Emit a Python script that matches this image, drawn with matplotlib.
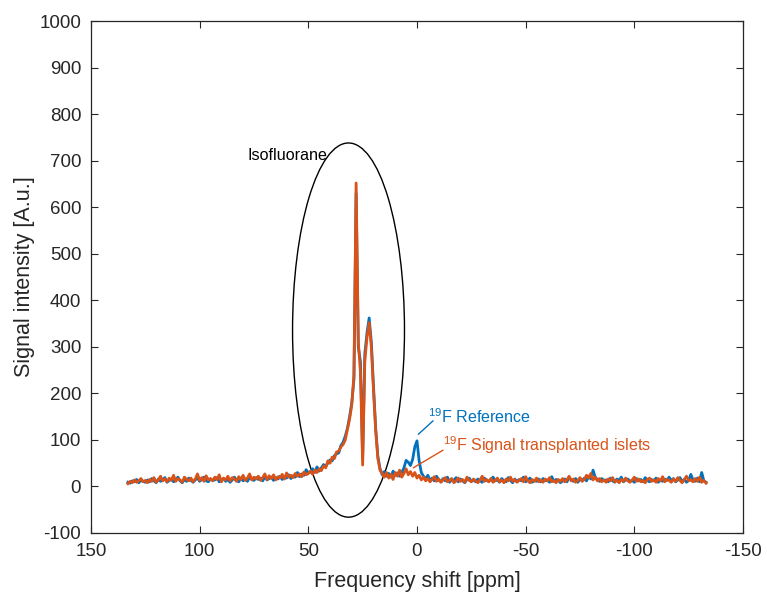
import numpy as np
import matplotlib
matplotlib.use("Agg")
import matplotlib.pyplot as plt
from matplotlib.patches import Ellipse

plt.rcParams['font.family'] = ['Liberation Sans', 'DejaVu Sans']
plt.rcParams['mathtext.default'] = 'regular'
plt.rcParams['axes.unicode_minus'] = False

# frequency axis, ppm (133 down to -133, 1 ppm steps)
ppm = np.arange(133, -134, -1)

# 19F reference spectrum
ref = [9, 7, 12, 10, 15, 8, 13, 11, 9, 14,
       10, 17, 12, 8, 16, 11, 14, 19, 9, 13,
       16, 10, 14, 20, 12, 8, 15, 11, 18, 13,
       9, 14, 18, 11, 15, 20, 12, 10, 16, 13,
       14, 19, 10, 13, 17, 11, 15, 9, 14, 20,
       13, 10, 18, 12, 16, 11, 20, 15, 13, 19,
       15, 18, 12, 21, 14, 17, 20, 13, 19, 16,
       22, 15, 20, 18, 25, 17, 23, 20, 30, 21,
       27, 24, 36, 29, 31, 38, 30, 42, 33, 40,
       47, 43, 50, 57, 55, 66, 70, 72, 88, 95,
       108, 125, 150, 180, 230, 630, 300, 268, 60, 285,
       330, 362, 310, 215, 125, 65, 38, 25, 32, 22,
       28, 20, 33, 24, 29, 22, 30, 40, 56, 52,
       45, 58, 85, 98, 55, 30, 22, 16, 24, 13,
       18, 12, 22, 14, 10, 17, 12, 20, 9, 15,
       13, 19, 10, 16, 12, 8, 15, 18, 11, 14,
       10, 16, 12, 9, 18, 13, 11, 15, 20, 12,
       14, 9, 17, 12, 10, 19, 13, 8, 16, 11,
       15, 12, 20, 10, 14, 18, 9, 13, 11, 16,
       10, 17, 12, 14, 9, 21, 11, 15, 13, 8,
       12, 16, 10, 19, 14, 11, 17, 9, 15, 13,
       18, 12, 22, 16, 35, 20, 15, 11, 17, 13,
       14, 10, 18, 12, 9, 16, 13, 20, 10, 14,
       16, 11, 13, 9, 17, 12, 15, 10, 19, 13,
       10, 15, 12, 18, 9, 14, 11, 16, 13, 20,
       12, 17, 10, 14, 19, 11, 15, 9, 13, 26,
       14, 11, 18, 10, 30, 12, 9]

# 19F signal from transplanted islets
islets = [6, 11, 8, 14, 9, 12, 17, 10, 13, 8,
          15, 11, 19, 9, 14, 22, 12, 16, 10, 18,
          13, 24, 11, 17, 14, 9, 20, 15, 12, 18,
          10, 16, 27, 13, 19, 11, 23, 14, 17, 12,
          20, 15, 25, 10, 18, 14, 22, 12, 19, 16,
          11, 21, 15, 24, 13, 18, 27, 14, 20, 16,
          22, 13, 19, 27, 15, 23, 17, 25, 14, 21,
          18, 26, 16, 29, 20, 24, 19, 28, 22, 27,
          21, 31, 25, 28, 33, 26, 35, 30, 38, 34,
          44, 40, 55, 50, 63, 60, 74, 76, 85, 90,
          100, 122, 145, 175, 240, 652, 310, 245, 46, 270,
          320, 352, 300, 205, 120, 60, 35, 28, 20, 30,
          18, 26, 15, 30, 22, 35, 20, 28, 38, 25,
          32, 22, 30, 18, 24, 14, 20, 12, 17, 10,
          15, 21, 11, 16, 9, 14, 19, 10, 13, 17,
          8, 12, 18, 11, 15, 9, 20, 13, 10, 16,
          12, 8, 14, 22, 11, 15, 10, 17, 9, 13,
          18, 10, 14, 8, 16, 12, 20, 11, 15, 9,
          13, 17, 10, 21, 12, 8, 15, 11, 18, 10,
          14, 9, 16, 12, 19, 10, 13, 8, 15, 11,
          17, 10, 14, 22, 12, 16, 9, 13, 19, 11,
          15, 24, 18, 28, 14, 20, 12, 17, 10, 14,
          9, 16, 12, 19, 10, 13, 8, 15, 11, 18,
          12, 9, 14, 20, 11, 16, 10, 13, 8, 15,
          18, 11, 14, 9, 17, 12, 21, 10, 15, 13,
          9, 16, 11, 19, 13, 8, 15, 22, 12, 14,
          10, 17, 11, 20, 9, 13, 7]

blue = '#0072BD'
orange = '#D95319'
dark = '#262626'

fig = plt.figure(figsize=(7.67, 5.94), dpi=100)
ax = fig.add_axes([0.1186, 0.1027, 0.8501, 0.8619])

ax.plot(ppm, ref, color=blue, lw=2)
ax.plot(ppm, islets, color=orange, lw=2)

# ellipse round the isoflurane peaks
ax.add_patch(Ellipse((31.5, 336), 51.5, 804, fill=False, ec='black', lw=1))
ax.text(77.8, 712, 'Isofluorane', fontsize=11.6, va='center', ha='left', color='black')

ax.annotate('', xy=(-0.6, 112), xytext=(-7.4, 141),
            arrowprops=dict(arrowstyle='-', color=blue, lw=1, shrinkA=0, shrinkB=0))
ax.text(-5.1, 150, '$^{19}$F Reference', fontsize=11.6, color=blue, va='center', ha='left')

ax.annotate('', xy=(1.7, 40), xytext=(-12.0, 78),
            arrowprops=dict(arrowstyle='-', color=orange, lw=1, shrinkA=0, shrinkB=0))
ax.text(-12.1, 89, '$^{19}$F Signal transplanted islets', fontsize=11.6, color=orange,
        va='center', ha='left')

ax.set_xlim(150, -150)
ax.set_ylim(-100, 1000)
ax.set_xticks(np.arange(150, -151, -50))
ax.set_yticks(np.arange(-100, 1001, 100))
ax.tick_params(direction='in', top=True, right=True, length=5, width=0.8,
               labelsize=13.5, colors=dark, pad=7)
for s in ax.spines.values():
    s.set_color(dark)
    s.set_linewidth(0.9)

ax.set_xlabel('Frequency shift [ppm]', fontsize=15.5, color=dark, labelpad=8)
ax.set_ylabel('Signal intensity [A.u.]', fontsize=15.5, color=dark, labelpad=3)

fig.savefig('out.png', dpi=100)
